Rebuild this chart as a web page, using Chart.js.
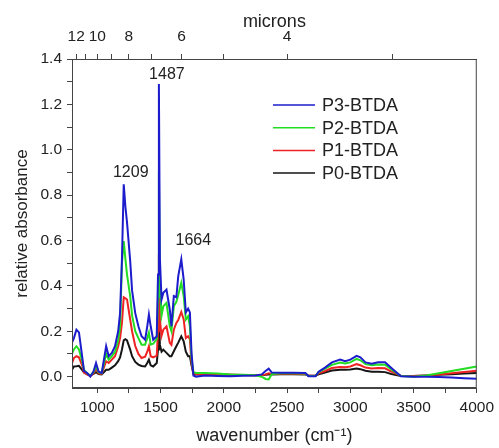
<!DOCTYPE html>
<html>
<head>
<meta charset="utf-8">
<script src="https://cdn.jsdelivr.net/npm/chart.js@4.4.1/dist/chart.umd.min.js"></script>
<style>
  html, body { margin: 0; padding: 0; background: #fff; }
</style>
</head>
<body>
<canvas id="irChart" width="499" height="448"></canvas>
<script>
  // IR spectra of the BTDA series, relative absorbance vs wavenumber
  const wavenumber = [800, 815, 835, 855, 880, 895, 920, 945, 970, 990, 1010, 1035, 1070, 1090, 1115, 1140, 1165, 1180, 1195, 1209,
    1222, 1235, 1260, 1275, 1300, 1325, 1350, 1378, 1395, 1408, 1422, 1442, 1470, 1480, 1487, 1495, 1508, 1522, 1547, 1573,
    1586, 1605, 1625, 1640, 1664, 1683, 1700, 1718, 1732, 1745, 1760, 1780, 1850, 1950, 2050, 2150, 2250, 2300, 2330, 2355,
    2380, 2450, 2550, 2645, 2670, 2725, 2750, 2800, 2855, 2920, 2960, 3000, 3050, 3080, 3120, 3170, 3220, 3275, 3325, 3400,
    3500, 3600, 3700, 3800, 3900, 4000];

  const p3 = [0.15, 0.17, 0.207, 0.195, 0.09, 0.025, 0.016, 0.0, 0.023, 0.06, 0.023, 0.016, 0.134, 0.09, 0.105, 0.134, 0.2, 0.28, 0.52, 0.848,
    0.75, 0.68, 0.51, 0.38, 0.28, 0.222, 0.178, 0.163, 0.222, 0.274, 0.222, 0.163, 0.178, 0.45, 1.29, 0.52, 0.34, 0.37, 0.384, 0.296,
    0.222, 0.355, 0.35, 0.443, 0.517, 0.428, 0.283, 0.30, 0.283, 0.105, 0.005, 0.0, 0.005, 0.003, 0.002, 0.004, 0.005, 0.01, 0.025, 0.035,
    0.018, 0.017, 0.017, 0.016, 0.002, 0.002, 0.022, 0.04, 0.063, 0.075, 0.068, 0.075, 0.092, 0.085, 0.063, 0.057, 0.063, 0.063, 0.038, 0.002,
    0.0, 0.0, -0.002, -0.004, -0.007, -0.009];

  const p2 = [0.10, 0.12, 0.134, 0.12, 0.07, 0.03, 0.015, 0.005, 0.02, 0.045, 0.02, 0.015, 0.10, 0.075, 0.09, 0.11, 0.16, 0.22, 0.50, 0.597,
    0.52, 0.45, 0.355, 0.27, 0.20, 0.17, 0.141, 0.141, 0.17, 0.194, 0.141, 0.145, 0.165, 0.35, 0.90, 0.40, 0.27, 0.31, 0.325, 0.222,
    0.20, 0.31, 0.33, 0.36, 0.414, 0.355, 0.252, 0.266, 0.222, 0.08, 0.02, 0.016, 0.016, 0.014, 0.01, 0.008, 0.006, 0.0, -0.01, -0.012,
    0.012, 0.015, 0.015, 0.014, 0.003, 0.003, 0.02, 0.035, 0.052, 0.062, 0.058, 0.063, 0.078, 0.072, 0.055, 0.05, 0.054, 0.053, 0.032, 0.003,
    0.0, 0.005, 0.015, 0.025, 0.035, 0.045];

  const p1 = [0.06, 0.082, 0.09, 0.085, 0.05, 0.018, 0.01, 0.003, 0.015, 0.035, 0.015, 0.012, 0.068, 0.06, 0.075, 0.09, 0.134, 0.17, 0.237, 0.35,
    0.345, 0.34, 0.252, 0.2, 0.135, 0.1, 0.082, 0.088, 0.11, 0.134, 0.09, 0.085, 0.093, 0.2, 0.54, 0.25, 0.18, 0.207, 0.222, 0.149,
    0.14, 0.207, 0.237, 0.25, 0.285, 0.252, 0.17, 0.178, 0.165, 0.06, 0.014, 0.012, 0.012, 0.01, 0.008, 0.007, 0.006, 0.006, 0.01, 0.015,
    0.012, 0.013, 0.013, 0.012, 0.004, 0.004, 0.015, 0.025, 0.038, 0.043, 0.042, 0.045, 0.055, 0.05, 0.04, 0.036, 0.038, 0.037, 0.022, 0.004,
    0.003, 0.005, 0.01, 0.015, 0.02, 0.026];

  const p0 = [0.03, 0.045, 0.046, 0.048, 0.03, 0.018, 0.01, 0.005, 0.012, 0.02, 0.012, 0.01, 0.03, 0.03, 0.04, 0.05, 0.068, 0.085, 0.12, 0.16,
    0.165, 0.16, 0.119, 0.09, 0.065, 0.053, 0.047, 0.045, 0.06, 0.075, 0.05, 0.045, 0.06, 0.12, 0.27, 0.14, 0.11, 0.119, 0.105, 0.09,
    0.09, 0.112, 0.134, 0.15, 0.178, 0.156, 0.11, 0.09, 0.09, 0.05, 0.012, 0.01, 0.01, 0.009, 0.008, 0.007, 0.006, 0.006, 0.008, 0.01,
    0.01, 0.011, 0.011, 0.01, 0.004, 0.004, 0.01, 0.018, 0.027, 0.03, 0.03, 0.032, 0.036, 0.033, 0.026, 0.022, 0.022, 0.02, 0.012, 0.003,
    0.003, 0.005, 0.008, 0.011, 0.014, 0.016];

  const seriesNames = ['P3-BTDA', 'P2-BTDA', 'P1-BTDA', 'P0-BTDA'];
  const seriesValues = [p3, p2, p1, p0];
  const seriesColors = ['#1c1ccc', '#22dd22', '#ee2222', '#151515'];

  const xTicks = [1000, 1250, 1500, 1750, 2000, 2250, 2500, 2750, 3000, 3250, 3500, 3750, 4000];
  const xLabelled = [1000, 1500, 2000, 2500, 3000, 3500, 4000];
  const yTicks = [0, 0.1, 0.2, 0.3, 0.4, 0.5, 0.6, 0.7, 0.8, 0.9, 1.0, 1.1, 1.2, 1.3, 1.4];
  const yLabelled = [0, 0.2, 0.4, 0.6, 0.8, 1.0, 1.2, 1.4];
  const micronTicks = [12, 11, 10, 9, 8, 7, 6, 5, 4, 3];
  const micronLabelled = [12, 10, 8, 6, 4];
  const peakLabels = [1209, 1487, 1664];

  const FONT = "'Liberation Sans', Arial, sans-serif";
  const AXIS = '#444';
  Chart.defaults.font.family = FONT;
  Chart.defaults.color = '#222';

  const datasets = seriesNames.map(function (name, i) {
    return {
      label: name,
      data: wavenumber.map(function (w, k) { return { x: w, y: seriesValues[i][k] }; }),
      borderColor: seriesColors[i],
      backgroundColor: seriesColors[i],
      borderWidth: 2,
      pointRadius: 0,
      tension: 0,
      fill: false
    };
  });

  function tickGrid() {
    return { display: true, drawOnChartArea: false, drawTicks: true, tickLength: 5, color: AXIS, tickColor: AXIS };
  }

  // frame, legend and peak labels drawn over the plot
  const extras = {
    id: 'extras',
    afterDraw: function (chart) {
      const ctx = chart.ctx;
      const a = chart.chartArea;
      const xs = chart.scales.x;
      const ys = chart.scales.y;
      ctx.save();
      ctx.strokeStyle = AXIS;
      ctx.lineWidth = 1;
      ctx.strokeRect(a.left + 0.5, a.top + 0.5, a.right - a.left - 1, a.bottom - a.top - 1);

      // legend
      ctx.font = '18px ' + FONT;
      ctx.textBaseline = 'middle';
      ctx.textAlign = 'left';
      seriesNames.forEach(function (name, i) {
        const y = a.top + 46 + i * 22.7;
        ctx.strokeStyle = seriesColors[i];
        ctx.lineWidth = 1.5;
        ctx.beginPath();
        ctx.moveTo(a.left + 201, y);
        ctx.lineTo(a.left + 243, y);
        ctx.stroke();
        ctx.fillStyle = '#222';
        ctx.fillText(name, a.left + 250, y + 1);
      });

      // peak positions, placed above the P3 curve
      ctx.font = '16px ' + FONT;
      ctx.textAlign = 'center';
      ctx.textBaseline = 'bottom';
      const shift = { 1209: [7, 4], 1487: [8, 1], 1664: [12, 11] };
      peakLabels.forEach(function (w) {
        const k = wavenumber.indexOf(w);
        const px = xs.getPixelForValue(w);
        const py = ys.getPixelForValue(p3[k]);
        ctx.fillText(String(w), px + shift[w][0], py - shift[w][1]);
      });
      ctx.restore();
    }
  };

  new Chart(document.getElementById('irChart'), {
    type: 'line',
    data: { datasets: datasets },
    options: {
      responsive: false,
      animation: false,
      parsing: true,
      layout: { padding: { left: 0, right: 19, top: 0, bottom: 0 } },
      plugins: { legend: { display: false }, tooltip: { enabled: false } },
      scales: {
        x: {
          type: 'linear',
          position: 'bottom',
          min: 800,
          max: 4000,
          grid: tickGrid(),
          border: { display: true, color: AXIS },
          afterBuildTicks: function (s) { s.ticks = xTicks.map(function (v) { return { value: v }; }); },
          afterFit: function (s) { s.height = 60; },
          ticks: {
            autoSkip: false,
            maxRotation: 0,
            padding: 5,
            font: { size: 15.5 },
            callback: function (v) { return xLabelled.indexOf(v) >= 0 ? String(v) : ''; }
          },
          title: { display: true, text: 'wavenumber (cm\u207B\u00B9)', font: { size: 18 }, padding: { top: 0, bottom: 1 } }
        },
        x2: {
          type: 'linear',
          position: 'top',
          min: 800,
          max: 4000,
          grid: tickGrid(),
          border: { display: true, color: AXIS },
          afterBuildTicks: function (s) { s.ticks = micronTicks.map(function (m) { return { value: 10000 / m }; }); },
          afterFit: function (s) { s.height = 59; },
          ticks: {
            autoSkip: false,
            maxRotation: 0,
            padding: 8,
            font: { size: 15.5 },
            callback: function (v) {
              const m = Math.round(10000 / v);
              return micronLabelled.indexOf(m) >= 0 ? String(m) : '';
            }
          },
          title: { display: true, text: 'microns', font: { size: 18 }, padding: { top: 11, bottom: 0 } }
        },
        y: {
          type: 'linear',
          min: -0.05,
          max: 1.4,
          grid: tickGrid(),
          border: { display: true, color: AXIS },
          afterBuildTicks: function (s) { s.ticks = yTicks.map(function (v) { return { value: v }; }); },
          afterFit: function (s) { s.width = 72; },
          ticks: {
            autoSkip: false,
            padding: 5,
            font: { size: 15.5 },
            callback: function (v) {
              const lab = yLabelled.some(function (t) { return Math.abs(t - v) < 1e-6; });
              return lab ? v.toFixed(1) : '';
            }
          },
          title: { display: true, text: 'relative absorbance', font: { size: 17 }, padding: { top: 12, bottom: 0 } }
        }
      }
    },
    plugins: [extras]
  });
</script>
</body>
</html>
